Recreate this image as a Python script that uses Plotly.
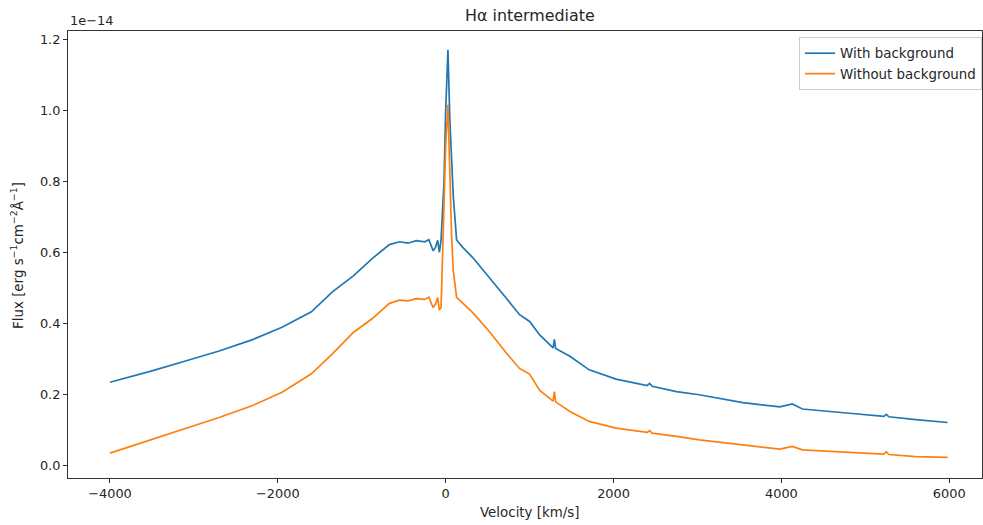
import plotly.graph_objects as go

# velocity grid [km/s] and fluxes in units of 1e-14 erg s^-1 cm^-2 A^-1
velocity = [-4000, -3500, -3100, -2700, -2300, -1950, -1600, -1350, -1100, -870,
            -670, -550, -450, -350, -250, -200, -150, -120, -95, -75,
            -55, -20, 0, 27, 50, 70, 90, 130, 200, 325,
            520, 720, 880, 960, 1000, 1120, 1280, 1295, 1310, 1480,
            1710, 2030, 2400, 2430, 2460, 2750, 3020, 3540, 3980, 4130,
            4250, 4810, 5220, 5250, 5280, 5600, 5980]

flux_with_bg = [0.235, 0.267, 0.295, 0.323, 0.355, 0.390, 0.433, 0.489, 0.534, 0.584,
                0.622, 0.630, 0.626, 0.633, 0.630, 0.636, 0.605, 0.615, 0.634, 0.600,
                0.635, 0.80, 1.00, 1.17, 0.97, 0.85, 0.76, 0.635, 0.615, 0.585,
                0.530, 0.472, 0.425, 0.412, 0.406, 0.368, 0.332, 0.356, 0.330, 0.308,
                0.270, 0.244, 0.226, 0.232, 0.224, 0.209, 0.200, 0.178, 0.166, 0.174,
                0.160, 0.148, 0.139, 0.145, 0.138, 0.130, 0.122]

flux_without_bg = [0.036, 0.075, 0.107, 0.136, 0.170, 0.207, 0.259, 0.315, 0.375, 0.415,
                   0.457, 0.466, 0.464, 0.470, 0.468, 0.474, 0.445, 0.455, 0.473, 0.438,
                   0.445, 0.70, 0.90, 1.015, 0.80, 0.65, 0.55, 0.474, 0.458, 0.430,
                   0.378, 0.318, 0.274, 0.263, 0.258, 0.212, 0.182, 0.209, 0.180, 0.153,
                   0.125, 0.106, 0.094, 0.099, 0.092, 0.083, 0.073, 0.059, 0.047, 0.055,
                   0.045, 0.038, 0.033, 0.040, 0.032, 0.026, 0.024]

x_ticks = [-4000, -2000, 0, 2000, 4000, 6000]
x_ticklabels = ['−4000', '−2000', '0', '2000', '4000', '6000']
y_ticks = [0.0, 0.2, 0.4, 0.6, 0.8, 1.0, 1.2]

font = 'DejaVu Sans'
txt = '#262626'

fig = go.Figure()
fig.add_trace(go.Scatter(x=velocity, y=flux_with_bg, mode='lines', name='With background',
                         line=dict(color='#1f77b4', width=1.7)))
fig.add_trace(go.Scatter(x=velocity, y=flux_without_bg, mode='lines', name='Without background',
                         line=dict(color='#ff7f0e', width=1.7)))

axis_style = dict(showline=True, mirror=True, linecolor='#333333', linewidth=1,
                  ticks='outside', ticklen=4, tickwidth=1, tickcolor='#333333',
                  showgrid=False, zeroline=False, automargin=False,
                  tickfont=dict(family=font, size=12.9, color=txt))

fig.update_xaxes(range=[-4500, 6390], tickvals=x_ticks, ticktext=x_ticklabels, **axis_style)
fig.update_yaxes(range=[-0.034, 1.2225], tickvals=y_ticks, tickformat='.1f', **axis_style)

fig.update_layout(
    width=983, height=525,
    margin=dict(l=68, r=1, t=31, b=47),
    paper_bgcolor='white', plot_bgcolor='white',
    font=dict(family=font, color=txt),
    legend=dict(x=0.7998, y=0.9866, xanchor='left', yanchor='top',
                bgcolor='white', bordercolor='#cccccc', borderwidth=1,
                font=dict(family=font, size=13.4, color=txt),
                itemwidth=30, tracegroupgap=0),
    showlegend=True,
    annotations=[
        dict(text='1e−14', xref='paper', yref='paper', x=0, y=1,
             xanchor='left', yanchor='bottom', showarrow=False,
             font=dict(family=font, size=12.9, color=txt), yshift=1),
        dict(text='Hα intermediate', xref='paper', yref='paper', x=0.5055, y=1.0336,
             xanchor='center', yanchor='middle', showarrow=False,
             font=dict(family=font, size=15.9, color=txt)),
        dict(text='Velocity [km/s]', xref='paper', yref='paper', x=0.5055, y=-0.078,
             xanchor='center', yanchor='middle', showarrow=False,
             font=dict(family=font, size=13.4, color=txt)),
        dict(text='Flux [erg s<sup>−1</sup>cm<sup>−2</sup>Å<sup>−1</sup>]',
             xref='paper', yref='paper', x=-0.0558, y=0.499, textangle=-90,
             xanchor='center', yanchor='middle', showarrow=False,
             font=dict(family=font, size=13.4, color=txt)),
    ],
)

# drop the default page margin so the figure sits at the window's top-left corner
fig.write_html("out.html", config={'displayModeBar': False},
               post_script="document.body.style.margin='0';")
